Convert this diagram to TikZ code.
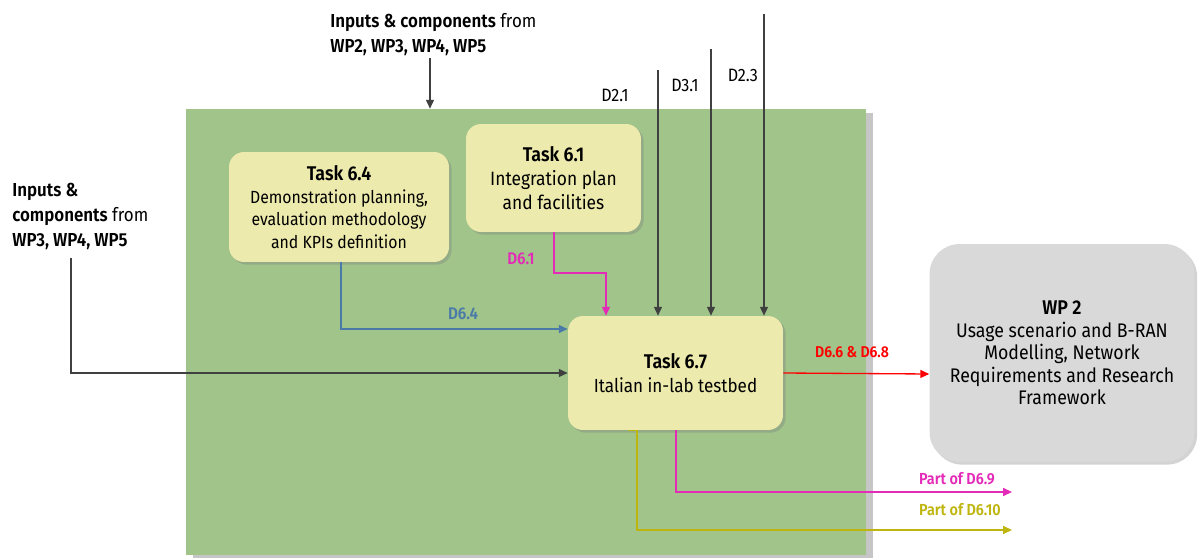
\documentclass[tikz,border=0pt]{standalone}
\usepackage{fontspec}
\setmainfont{Fira Sans}[FakeStretch=0.9,BoldFont={Fira Sans SemiBold}]
\usetikzlibrary{arrows.meta,shadows}

\definecolor{wpgreen}{HTML}{A0C48A}
\definecolor{taskfill}{HTML}{EDEAAD}
\definecolor{wpgray}{HTML}{D9D9D9}
\definecolor{lineg}{HTML}{404040}
\definecolor{d64blue}{HTML}{4A7AA8}
\definecolor{d61pink}{HTML}{E42BB8}
\definecolor{d610olive}{HTML}{BFB50F}

\begin{document}
\begin{tikzpicture}[x=0.02cm, y=-0.02cm,
	taskbox/.style={rounded corners=0.3cm, fill=taskfill, align=center,
		drop shadow={shadow xshift=1.5pt, shadow yshift=-1.5pt, opacity=0.35},
		font=\fontsize{10}{12.8}\selectfont},
	wptxt/.style={align=left, inner sep=0pt, anchor=north west,
		font=\fontsize{10.7}{14.2}\selectfont},
	dlbl/.style={inner sep=0pt, font=\fontsize{10.2}{11}\selectfont},
	clbl/.style={inner sep=0pt, font=\bfseries\fontsize{9.6}{11}\selectfont},
	conn/.style={line width=0.75pt, -{Triangle[length=5pt, width=4.5pt]}}]

	\useasboundingbox (0,0) rectangle (1198,558);

	\node (wp6) [fill=wpgreen, minimum width=13.6cm, minimum height=8.92cm,
		drop shadow={shadow xshift=4pt, shadow yshift=-2pt, opacity=0.45}] at (526,332) {};

	\node (t64) [taskbox, minimum width=4.4cm, minimum height=2.2cm] at (339,207)
		{\textbf{\fontsize{11.3}{12.8}\selectfont Task 6.4}\\Demonstration planning,\\evaluation methodology\\and KPIs definition};
	\node (t61) [taskbox, minimum width=3.5cm, minimum height=2.16cm, font=\fontsize{11}{13.6}\selectfont] at (553.5,178)
		{\textbf{\fontsize{11.3}{13.6}\selectfont Task 6.1}\\Integration plan\\and facilities};
	\node (t67) [taskbox, minimum width=4.3cm, minimum height=2.28cm, font=\fontsize{10.8}{14}\selectfont] at (675.5,373)
		{\textbf{\fontsize{11.3}{14}\selectfont Task 6.7}\\Italian in-lab testbed};
	\node (wp2) [taskbox, fill=wpgray, rounded corners=0.6cm, minimum width=5.3cm, minimum height=4.36cm,
		font=\fontsize{11.2}{12.8}\selectfont] at (1062,353)
		{\textbf{\fontsize{11.3}{12.8}\selectfont WP 2}\\Usage scenario and B-RAN\\Modelling, Network\\Requirements and Research\\Framework};

	\node (inT) [wptxt] at (330,13) {\textbf{Inputs \& components} from\\\textbf{WP2, WP3, WP4, WP5}};
	\node (inL) [wptxt] at (12,183) {\textbf{Inputs \&}\\\textbf{components} from\\\textbf{WP3, WP4, WP5}};

	\coordinate (inTs) at (430,58);
	\coordinate (inLs) at (71,258);
	\coordinate (d21s) at (658,70);
	\coordinate (d31s) at (711,49);
	\coordinate (d23s) at (764,14);
	\coordinate (o69) at (1012,492);
	\coordinate (o610) at (1012,530);

	\node (d21) [dlbl] at (615,95) {D2.1};
	\node (d31) [dlbl] at (685,85) {D3.1};
	\node (d23) [dlbl] at (743,75) {D2.3};
	\node (d61) [clbl, text=d61pink] at (521,259) {D6.1};
	\node (d64) [clbl, text=d64blue] at (463,314) {D6.4};
	\node (d66) [clbl, text=red, font=\bfseries\fontsize{8.9}{11}\selectfont] at (852,352) {D6.6 \& D6.8};
	\node (p69) [clbl, text=d61pink, font=\bfseries\fontsize{9.1}{11}\selectfont] at (957,479) {Part of D6.9};
	\node (p610) [clbl, text=d610olive, font=\bfseries\fontsize{9.1}{11}\selectfont] at (960,510) {Part of D6.10};

	\path[conn, lineg]
	(inTs) edge (inTs |- wp6.north)
	(d21s) edge (t67.north -| d21s)
	(d31s) edge (t67.north -| d31s)
	(d23s) edge (t67.north -| d23s);

	\draw[conn, lineg] (inLs) |- (t67.west);
	\draw[conn, d64blue] (t64.south -| 341,0) |- (t67.west |- 0,329);
	\draw[conn, d61pink] (t61.south -| 554,0) |- (606,273) -- (t67.north -| 606,0);
	\draw[conn, red] (t67.east) -- (wp2.west |- 0,374);
	\draw[conn, d61pink] (t67.south -| 676,0) |- (o69);
	\draw[conn, d610olive] (t67.south -| 628,0) -- (t67.south -| 637,0) |- (o610);

\end{tikzpicture}
\end{document}
